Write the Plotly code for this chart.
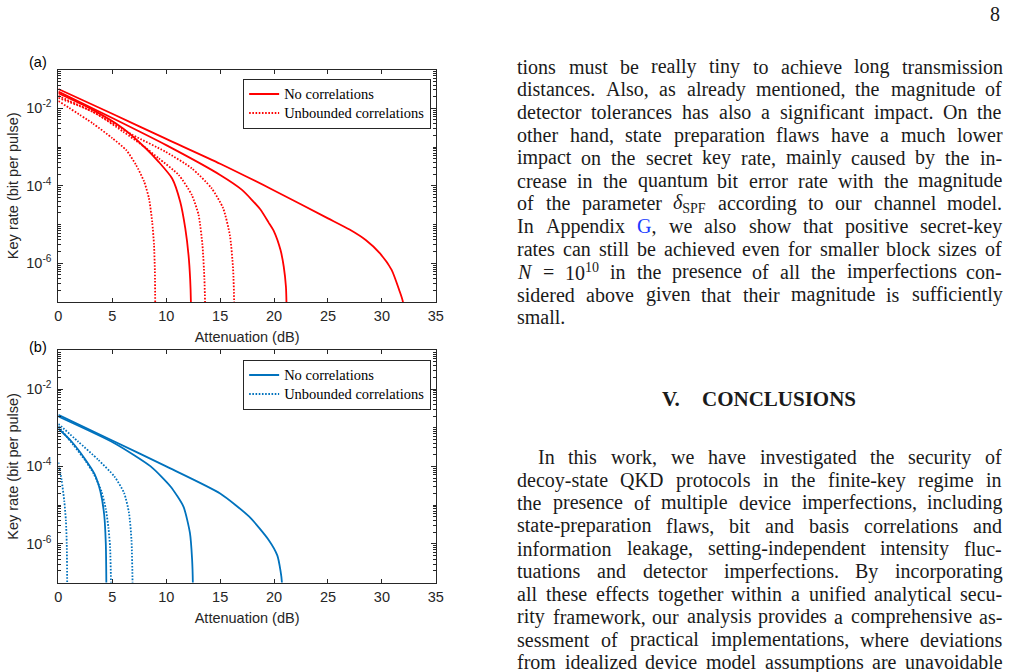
import plotly.graph_objects as go

W, H = 1016, 672

# ------------------------------------------------------------------ data
x_tick_vals = [0, 5, 10, 15, 20, 25, 30, 35]
y_tick_exps = [-6, -4, -2]
y_range_exp = [-7, -1]

# Panel (a)  (values are log10 of key rate)
a_nc1_x = [0, 5, 10, 15, 20, 25, 27, 28.5, 29.8, 30.9, 31.6, 31.95, 32.0]
a_nc1_log = [-1.50, -2.14, -2.79, -3.43, -4.12, -4.84, -5.13, -5.40, -5.74, -6.17, -6.69, -7.0, -8.0]
a_nc2_x = [0, 5, 10, 15, 17, 18.7, 19.5, 20, 20.6, 20.9, 21.1, 21.15, 21.17]
a_nc2_log = [-1.57, -2.25, -2.95, -3.72, -4.10, -4.60, -4.95, -5.18, -5.66, -6.09, -6.6, -7.0, -8.0]
a_nc3_x = [0, 3.2, 6.0, 8.1, 9.3, 10.55, 11.3, 11.77, 12.07, 12.22, 12.29, 12.30]
a_nc3_log = [-1.61, -2.04, -2.52, -3.03, -3.38, -3.81, -4.41, -5.10, -5.79, -6.4, -7.0, -8.0]
a_uc1_x = [0, 3.2, 5.0, 6.3, 7.2, 7.95, 8.4, 8.7, 8.87, 8.95, 8.98, 8.99]
a_uc1_log = [-1.81, -2.39, -2.77, -3.08, -3.46, -3.89, -4.32, -4.93, -5.53, -6.2, -7.0, -8.0]
a_uc2_x = [0, 3.2, 6.0, 8.0, 9.3, 11.16, 12.38, 13.0, 13.36, 13.54, 13.60, 13.61]
a_uc2_log = [-1.73, -2.09, -2.60, -3.00, -3.29, -3.72, -4.24, -4.75, -5.53, -6.39, -7.0, -8.0]
a_uc3_x = [0, 3.2, 6.9, 9.93, 12.38, 14.2, 15.28, 15.9, 16.2, 16.30, 16.31]
a_uc3_log = [-1.68, -2.09, -2.69, -3.12, -3.55, -4.06, -4.58, -5.27, -6.13, -7.0, -8.0]

# Panel (b)
b_nc1_x = [0, 5, 10, 15, 17.7, 19.5, 20.3, 20.6, 20.73, 20.75]
b_nc1_log = [-2.67, -3.33, -4.00, -4.70, -5.30, -5.90, -6.30, -6.70, -7.0, -8.0]
b_nc2_x = [0, 5.2, 8.56, 10.4, 11.6, 12.2, 12.4, 12.47, 12.48]
b_nc2_log = [-2.71, -3.40, -4.00, -4.52, -5.04, -5.72, -6.40, -7.0, -8.0]
b_nc3_x = [0, 1.2, 2.45, 3.36, 3.9, 4.25, 4.4, 4.45, 4.46]
b_nc3_log = [-3.02, -3.35, -3.80, -4.20, -4.65, -5.25, -6.00, -7.0, -8.0]
b_uc1_x = [0, 0.3, 0.55, 0.7, 0.78, 0.82, 0.83]
b_uc1_log = [-3.90, -4.35, -4.90, -5.40, -6.00, -7.0, -8.0]
b_uc2_x = [0, 1.4, 2.5, 3.3, 4.0, 4.4, 4.65, 4.8, 4.88, 4.89]
b_uc2_log = [-2.96, -3.45, -3.85, -4.20, -4.65, -5.10, -5.60, -6.10, -7.0, -8.0]
b_uc3_x = [0, 1.8, 3.7, 5.2, 6.1, 6.55, 6.78, 6.88, 6.89]
b_uc3_log = [-2.90, -3.35, -3.83, -4.26, -4.69, -5.20, -5.90, -7.0, -8.0]

legend_names = ["No correlations", "Unbounded correlations"]

RED = "#FF0000"
BLUE = "#0072BD"
AX = "#262626"
DOT = "1.6px,1.6px"
LEG_TXT = 14.5

fig = go.Figure()

def add_curve(x, lg, color, dashed, xa, ya, leg, show):
    nm = legend_names[1] if dashed else legend_names[0]
    fig.add_trace(go.Scatter(
        x=x, y=[10 ** v for v in lg], mode="lines",
        line=dict(color=color, width=1.8, dash=DOT if dashed else "solid",
                  shape="spline", smoothing=0.6),
        xaxis=xa, yaxis=ya, legend=leg, showlegend=show,
        name="<span style='font-size:%spx'>%s</span>" % (LEG_TXT, nm),
        hoverinfo="skip"))

panel_a = [(a_nc1_x, a_nc1_log, False), (a_uc1_x, a_uc1_log, True),
           (a_nc2_x, a_nc2_log, False), (a_nc3_x, a_nc3_log, False),
           (a_uc2_x, a_uc2_log, True), (a_uc3_x, a_uc3_log, True)]
panel_b = [(b_nc1_x, b_nc1_log, False), (b_uc1_x, b_uc1_log, True),
           (b_nc2_x, b_nc2_log, False), (b_nc3_x, b_nc3_log, False),
           (b_uc2_x, b_uc2_log, True), (b_uc3_x, b_uc3_log, True)]
for i, (x, lg, d) in enumerate(panel_a):
    add_curve(x, lg, RED, d, "x", "y", "legend", i < 2)
for i, (x, lg, d) in enumerate(panel_b):
    add_curve(x, lg, BLUE, d, "x2", "y2", "legend2", i < 2)

# ------------------------------------------------------------------ axes
minor_vals = [k * 10.0 ** n for n in range(-7, -1) for k in range(1, 10)
              if not (k == 1 and n in y_tick_exps)]
SANS = "Liberation Sans, Arial, sans-serif"
tickfont = dict(family=SANS, size=14.5, color=AX)

def xaxis(dom_anchor):
    return dict(domain=[55 / W, 437 / W], range=[0, 35], tickvals=x_tick_vals,
                ticks="inside", ticklen=4, tickwidth=1, tickcolor=AX,
                showline=True, linecolor=AX, linewidth=1, mirror="allticks",
                showgrid=False, zeroline=False, tickfont=tickfont,
                anchor=dom_anchor, ticklabelstandoff=1,
                title=dict(text="Attenuation (dB)", font=tickfont, standoff=8))

def yaxis(top_px, bot_px, anchor):
    return dict(domain=[1 - bot_px / H, 1 - top_px / H], type="log",
                range=y_range_exp,
                tickvals=[10.0 ** e for e in y_tick_exps],
                ticktext=["10<sup>%d</sup>" % e for e in y_tick_exps],
                ticks="inside", ticklen=4.5, tickwidth=1, tickcolor=AX,
                minor=dict(tickvals=minor_vals, ticks="inside", ticklen=2.5,
                           tickwidth=1, tickcolor=AX, showgrid=False),
                showline=True, linecolor=AX, linewidth=1, mirror="allticks",
                showgrid=False, zeroline=False, tickfont=tickfont,
                anchor=anchor, ticklabelstandoff=3,
                title=dict(text="Key rate (bit per pulse)", font=tickfont, standoff=4))

legfont = dict(family="Liberation Serif, Times New Roman, serif", size=12.3, color="#000000")
def legend(top_px):
    return dict(x=242 / W, y=1 - top_px / H, xanchor="left", yanchor="top",
                bgcolor="white", bordercolor=AX, borderwidth=1, font=legfont,
                itemwidth=30, tracegroupgap=0)

# ------------------------------------------------------------------ page text
TIMES = {'a': 444, 'b': 500, 'c': 444, 'd': 500, 'e': 444, 'f': 333, 'g': 500, 'h': 500,
         'i': 278, 'j': 278, 'k': 500, 'l': 278, 'm': 778, 'n': 500, 'o': 500, 'p': 500,
         'q': 500, 'r': 333, 's': 389, 't': 278, 'u': 500, 'v': 500, 'w': 722, 'x': 500,
         'y': 500, 'z': 444, 'A': 722, 'B': 667, 'C': 667, 'D': 722, 'E': 611, 'F': 556,
         'G': 722, 'H': 722, 'I': 333, 'J': 389, 'K': 722, 'L': 611, 'M': 889, 'N': 722,
         'O': 722, 'P': 556, 'Q': 722, 'R': 667, 'S': 556, 'T': 611, 'U': 722, 'V': 722,
         'W': 944, 'X': 722, 'Y': 722, 'Z': 611, '.': 250, ',': 250, '-': 333, '=': 564}
FS = 20
TXT = "#1a1a1a"
SERIF = "Liberation Serif, Times New Roman, serif"

def wwidth(w):
    if isinstance(w, tuple):
        return w[1] * FS / 1000
    return sum(TIMES.get(c, 500) for c in w) * FS / 1000

def whtml(w):
    return w[0] if isinstance(w, tuple) else w

para1 = [
    "tions must be really tiny to achieve long transmission",
    "distances. Also, as already mentioned, the magnitude of",
    "detector tolerances has also a significant impact. On the",
    "other hand, state preparation flaws have a much lower",
    "impact on the secret key rate, mainly caused by the in-",
    "crease in the quantum bit error rate with the magnitude",
    ["of", "the", "parameter", ("<i>δ</i><sub>SPF</sub>", 1650), "according", "to", "our", "channel", "model."],
    ["In", "Appendix", ("<span style='color:#1a3cff'>G</span>,", 972), "we", "also", "show", "that", "positive", "secret-key"],
    "rates can still be achieved even for smaller block sizes of",
    [("<i>N</i>", 722), "=", ("10<sup>10</sup>", 1700), "in", "the", "presence", "of", "all", "the", "imperfections", "con-"],
    "sidered above given that their magnitude is sufficiently",
    "small.",
]
para1_y = [66.7, 89.4, 112.2, 135.0, 157.8, 180.6, 203.4, 226.2, 249.0, 271.8, 294.6, 317.4]

para2 = [
    "In this work, we have investigated the security of",
    "decoy-state QKD protocols in the finite-key regime in",
    "the presence of multiple device imperfections, including",
    "state-preparation flaws, bit and basis correlations and",
    "information leakage, setting-independent intensity fluc-",
    "tuations and detector imperfections. By incorporating",
    "all these effects together within a unified analytical secu-",
    "rity framework, our analysis provides a comprehensive as-",
    "sessment of practical implementations, where deviations",
    "from idealized device model assumptions are unavoidable",
]
para2_y = [457.3, 480.1, 502.9, 525.7, 548.5, 571.3, 594.1, 616.9, 639.7, 662.3]

LEFT, RIGHT, INDENT = 518.5, 1008.5, 539.0
annotations = []

def place_para(lines, ys, first_indent, last_ragged):
    for i, (ln, y) in enumerate(zip(lines, ys)):
        words = ln.split() if isinstance(ln, str) else ln
        x0 = first_indent if i == 0 else LEFT
        widths = [wwidth(w) for w in words]
        ragged = last_ragged and i == len(lines) - 1
        gap = 250 * FS / 1000 if ragged else (RIGHT - x0 - sum(widths)) / (len(words) - 1)
        x = x0
        for w, wd in zip(words, widths):
            annotations.append(dict(text=whtml(w), x=(x - 1) / W, y=1 - y / H,
                                    xref="paper", yref="paper", xanchor="left",
                                    yanchor="middle", showarrow=False,
                                    font=dict(family=SERIF, size=FS, color=TXT)))
            x += wd + gap

place_para(para1, para1_y, LEFT, True)
place_para(para2, para2_y, INDENT, False)

def ann(text, x, y, size, family=SERIF, xanchor="center", color=TXT):
    annotations.append(dict(text=text, x=x / W, y=1 - y / H, xref="paper", yref="paper",
                            xanchor=xanchor, yanchor="middle", showarrow=False,
                            font=dict(family=family, size=size, color=color)))

ann("8", 1003, 14, FS)
ann("<b>V.</b>", 675, 399, 21)
ann("<b>CONCLUSIONS</b>", 784, 399, 21)
ann("(a)", 34, 62, 14.5, SANS, color="#000000")
ann("(b)", 34, 347, 14.5, SANS, color="#000000")

fig.update_layout(
    width=W, height=H, margin=dict(l=0, r=0, t=0, b=0),
    paper_bgcolor="white", plot_bgcolor="white",
    xaxis=xaxis("y"), yaxis=yaxis(69.6, 302.0, "x"),
    xaxis2=xaxis("y2"), yaxis2=yaxis(350.3, 582.5, "x2"),
    legend=legend(78.5), legend2=legend(359.5),
    annotations=annotations,
)

fig.write_html("out.html")
